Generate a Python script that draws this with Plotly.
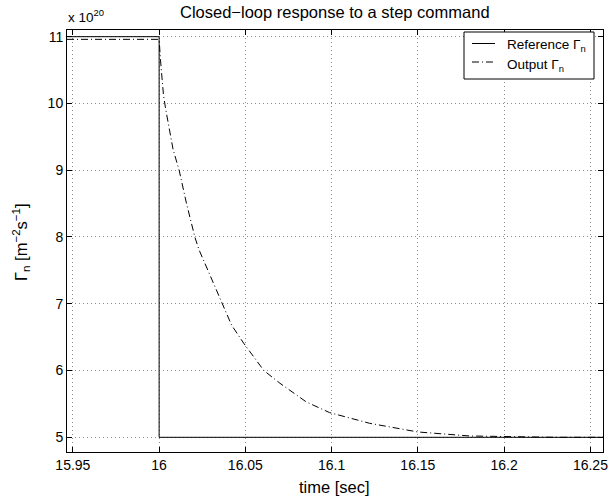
import plotly.graph_objects as go

# Data (values in units of 1e20 m^-2 s^-1)
ref_t = [15.9466, 16.0, 16.0, 16.2573]
ref_v = [11.0, 11.0, 5.0, 5.0]

out_t = [15.9466, 16.0, 16.0008, 16.0016, 16.0025, 16.0037, 16.0081, 16.0116,
         16.0158, 16.0207, 16.0231, 16.042, 16.049, 16.0607, 16.07, 16.0853,
         16.0988, 16.122, 16.15, 16.18, 16.2, 16.23, 16.2573]
out_v = [10.96, 10.96, 10.65, 10.38, 10.13, 9.93, 9.31, 9.0,
         8.51, 8.0, 7.81, 6.68, 6.41, 6.0, 5.81, 5.53,
         5.37, 5.21, 5.08, 5.02, 5.01, 5.0, 5.0]

x_ticks = [15.95, 16.0, 16.05, 16.1, 16.15, 16.2, 16.25]
x_labels = ["15.95", "16", "16.05", "16.1", "16.15", "16.2", "16.25"]
y_ticks = [5, 6, 7, 8, 9, 10, 11]

W, H = 610, 501
L, R, T, B = 67, 7, 30, 49
PW, PH = W - L - R, H - T - B


def px(x):
    return (x - L) / PW


def py(y):
    return (H - B - y) / PH


font = "Liberation Sans, Arial, Helvetica, sans-serif"
DASHDOT = "7px,3px,1px,3px"

fig = go.Figure()
fig.add_trace(go.Scatter(x=ref_t, y=ref_v, mode="lines",
                         line=dict(color="black", width=1),
                         name="Reference Γ<sub>n</sub>", showlegend=False))
fig.add_trace(go.Scatter(x=out_t, y=out_v, mode="lines",
                         line=dict(color="black", width=1, dash=DASHDOT),
                         name="Output Γ<sub>n</sub>", showlegend=False))

axis_common = dict(showline=True, linecolor="black", linewidth=1, mirror="ticks",
                   ticks="inside", ticklen=5, tickcolor="black", automargin=False,
                   showgrid=True, gridcolor="#8c8c8c", griddash="1px,3px", gridwidth=1,
                   zeroline=False, tickfont=dict(size=14, color="black", family=font))

fig.update_layout(
    width=W, height=H,
    margin=dict(l=L, r=R, t=T, b=B),
    paper_bgcolor="white", plot_bgcolor="white",
    font=dict(family=font, color="black"),
    showlegend=False,
    xaxis=dict(range=[15.9466, 16.2573], tickvals=x_ticks, ticktext=x_labels,
               **axis_common),
    yaxis=dict(range=[4.78, 11.10], tickvals=y_ticks, **axis_common),
)

# Title
fig.add_annotation(text="Closed−loop response to a step command", xref="paper", yref="paper",
                   x=px(335), y=py(12.5), xanchor="center", yanchor="middle",
                   showarrow=False, font=dict(size=16.5, color="black", family=font))
# Axis titles
fig.add_annotation(text="time [sec]", xref="paper", yref="paper",
                   x=px(334), y=py(487), xanchor="center", yanchor="middle",
                   showarrow=False, font=dict(size=16.5, color="black", family=font))
fig.add_annotation(text="Γ<sub>n</sub> [m<sup>−2</sup>s<sup>−1</sup>]", xref="paper", yref="paper",
                   x=px(21), y=py(242), xanchor="center", yanchor="middle", textangle=-90,
                   showarrow=False, font=dict(size=16.5, color="black", family=font))
# Exponent label
fig.add_annotation(text="x 10<sup>20</sup>", xref="paper", yref="paper",
                   x=px(66), y=py(27), xanchor="left", yanchor="bottom",
                   showarrow=False, font=dict(size=13.5, color="black", family=font))

# Legend box (drawn manually to match sample line length)
fig.add_shape(type="rect", xref="paper", yref="paper",
              x0=px(464), x1=px(594), y0=py(32), y1=py(79),
              line=dict(color="black", width=1), fillcolor="white", layer="above")
fig.add_shape(type="line", xref="paper", yref="paper",
              x0=px(472), x1=px(495), y0=py(43.5), y1=py(43.5),
              line=dict(color="black", width=1), layer="above")
fig.add_shape(type="line", xref="paper", yref="paper",
              x0=px(472), x1=px(495), y0=py(62), y1=py(62),
              line=dict(color="black", width=1, dash=DASHDOT), layer="above")
fig.add_annotation(text="Reference Γ<sub>n</sub>", xref="paper", yref="paper",
                   x=px(505), y=py(46), xanchor="left", yanchor="middle",
                   showarrow=False, font=dict(size=13.5, color="black", family=font))
fig.add_annotation(text="Output Γ<sub>n</sub>", xref="paper", yref="paper",
                   x=px(505), y=py(65), xanchor="left", yanchor="middle",
                   showarrow=False, font=dict(size=13.5, color="black", family=font))

fig.write_html("out.html", config={"displayModeBar": False},
               post_script="document.body.style.margin='0';document.body.style.padding='0';")
